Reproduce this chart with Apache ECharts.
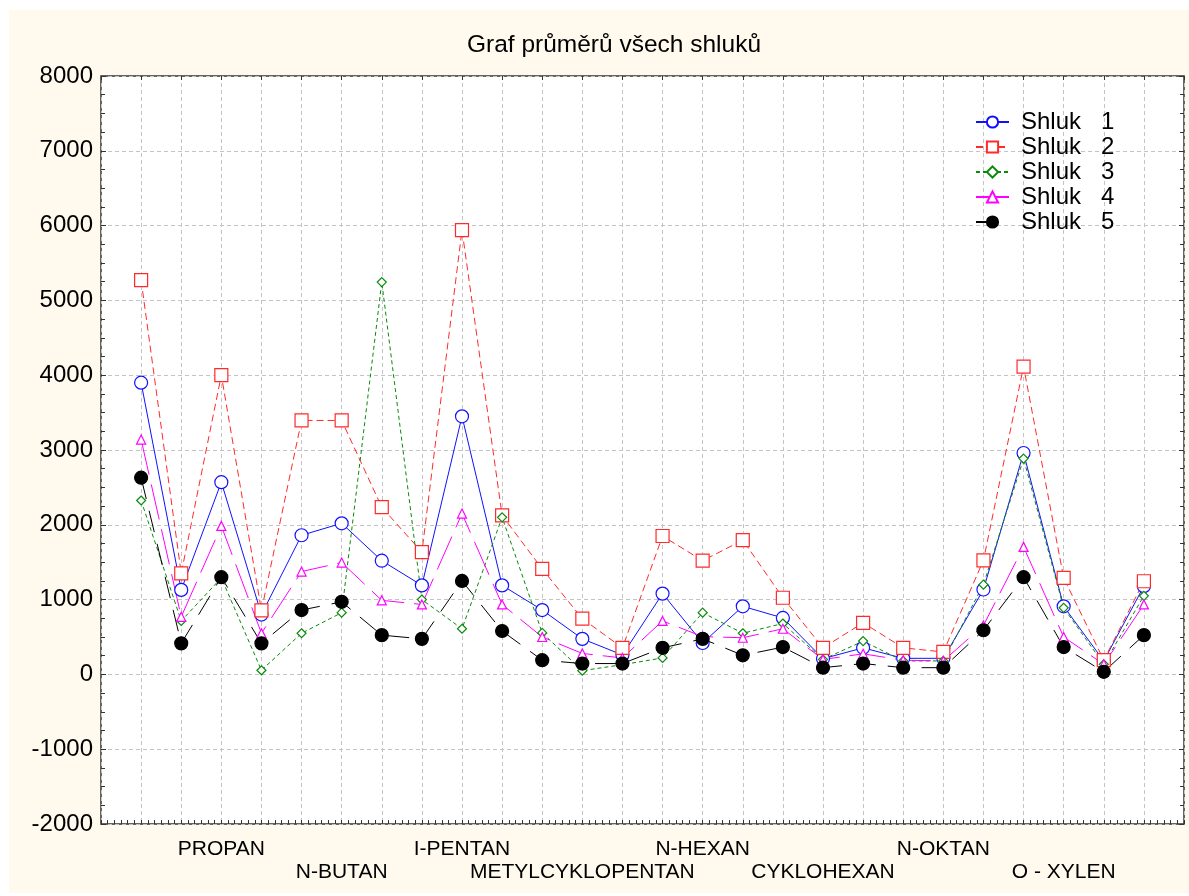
<!DOCTYPE html>
<html>
<head>
<meta charset="utf-8">
<title>Graf průměrů všech shluků</title>
<script src="https://cdn.jsdelivr.net/npm/echarts@6/dist/echarts.min.js"></script>
<style>
  html, body { margin: 0; padding: 0; background: #fff; }
  #chart { width: 1189px; height: 896px; }
</style>
</head>
<body>
<div id="chart"></div>
<script>
// Measured compounds along the x axis (only every third one is labelled)
const categories = [
  '', '', 'PROPAN', '', '', 'N-BUTAN', '', '', 'I-PENTAN', '', '', 'METYLCYKLOPENTAN',
  '', '', 'N-HEXAN', '', '', 'CYKLOHEXAN', '', '', 'N-OKTAN', '', '', 'O - XYLEN', '', ''
];

const seriesNames = ['Shluk   1', 'Shluk   2', 'Shluk   3', 'Shluk   4', 'Shluk   5'];

// Cluster means
const shluk1 = [3900, 1130, 2570, 800, 1860, 2020, 1520, 1190, 3450, 1190, 860, 475, 260,
                1080, 420, 910, 755, 210, 355, 215, 215, 1135, 2960, 910, 180, 1180];
const shluk2 = [5270, 1350, 4000, 855, 3395, 3395, 2235, 1635, 5940, 2125, 1410, 745, 355,
                1850, 1520, 1795, 1025, 355, 690, 355, 300, 1525, 4115, 1290, 190, 1245];
const shluk3 = [2325, 715, 1290, 55, 550, 825, 5245, 1000, 610, 2100, 555, 50, 130,
                220, 825, 550, 680, 200, 445, 180, 180, 1200, 2885, 890, 135, 1050];
const shluk4 = [3140, 770, 1985, 550, 1375, 1495, 990, 935, 2150, 935, 500, 280, 220,
                715, 505, 490, 610, 200, 275, 190, 180, 655, 1705, 500, 135, 935];
const shluk5 = [2630, 415, 1300, 415, 860, 970, 525, 475, 1250, 580, 190, 145, 145,
                355, 475, 255, 365, 90, 145, 90, 90, 590, 1300, 365, 35, 525];

// Y axis range and step
const yMin = -2000, yMax = 8000, yStep = 1000;

const FONT = '"Liberation Sans", Arial, Helvetica, sans-serif';
const AXIS_COLOR = '#333';
const GRID_COLOR = '#c4c4c4';

// Named labels alternate between two rows under the axis
const namedIdx = categories.map((c, i) => c ? i : -1).filter(i => i >= 0);
function xLabel(v) {
  const i = v - 1;
  const name = categories[i];
  if (!name) return '';
  const order = namedIdx.indexOf(i);
  return (order % 2 === 1 ? '\n' : '') + name;
}

const styles = [
  { values: shluk1, color: '#1010ff', symbol: 'circle',   size: 13, dash: 'solid', fill: '#fff' },
  { values: shluk2, color: '#ff2a2a', symbol: 'rect',     size: 13, dash: [7, 4],  fill: '#fff' },
  { values: shluk3, color: '#0a8a0a', symbol: 'diamond',  size: 9,  dash: [4, 3],  fill: '#fff' },
  { values: shluk4, color: '#ff00ff', symbol: 'triangle', size: 9,  dash: [36, 10], fill: '#fff' },
  { values: shluk5, color: '#000000', symbol: 'circle',   size: 13, dash: [22, 12], fill: '#000' }
];

const series = styles.map((s, k) => ({
  name: seriesNames[k],
  type: 'line',
  xAxisIndex: 0,
  yAxisIndex: 0,
  data: s.values.map((v, i) => [i + 1, v]),
  symbol: s.symbol,
  symbolSize: s.size,
  showAllSymbol: true,
  lineStyle: { color: s.color, width: 1, type: s.dash },
  itemStyle: { color: s.fill, borderColor: s.color, borderWidth: 1.2 },
  emphasis: { disabled: true },
  animation: false
}));

const chart = echarts.init(document.getElementById('chart'), null, { renderer: 'canvas' });

chart.setOption({
  backgroundColor: '#fff9ee',
  animation: false,
  textStyle: { fontFamily: FONT },
  graphic: [
    // white page margin around the cream panel
    { type: 'rect', left: 0, top: 0, shape: { width: 1189, height: 10 }, style: { fill: '#fff' }, silent: true },
    { type: 'rect', left: 0, top: 0, shape: { width: 9, height: 896 }, style: { fill: '#fff' }, silent: true },
    { type: 'rect', left: 0, top: 893, shape: { width: 1189, height: 3 }, style: { fill: '#fff' }, silent: true },
    {
      type: 'text', x: 614, y: 45, silent: true,
      style: {
        text: 'Graf průměrů všech shluků',
        font: '24.5px ' + FONT, fill: '#000',
        textAlign: 'center', textVerticalAlign: 'middle'
      }
    }
  ],
  grid: {
    left: 101, right: 5, top: 76, bottom: 72,
    show: true, backgroundColor: '#fff',
    borderColor: AXIS_COLOR, borderWidth: 1.5
  },
  legend: {
    orient: 'vertical',
    left: 975, top: 110, padding: 0,
    itemWidth: 33, itemHeight: 14, itemGap: 1,
    selectedMode: false,
    textStyle: { fontSize: 24, lineHeight: 24, color: '#000', fontFamily: FONT, padding: [0, 0, 0, 7] },
    data: seriesNames
  },
  xAxis: [
    {
      type: 'value', position: 'bottom', min: 0, max: categories.length + 1, interval: 1,
      axisLine: { show: false, onZero: false },
      axisTick: { show: true, inside: true, length: 4, lineStyle: { color: AXIS_COLOR } },
      minorTick: { show: true, splitNumber: 6, length: 4, lineStyle: { color: AXIS_COLOR } },
      splitLine: { show: true, lineStyle: { color: GRID_COLOR, type: [4, 3], width: 1 } },
      axisLabel: {
        formatter: xLabel, margin: 13, fontSize: 21, lineHeight: 23.5, color: '#000',
        fontFamily: FONT, showMinLabel: true, showMaxLabel: true, hideOverlap: false
      }
    },
    {
      type: 'value', position: 'top', min: 0, max: categories.length + 1, interval: 1,
      axisLine: { show: false, onZero: false },
      axisTick: { show: true, inside: true, length: 4, lineStyle: { color: AXIS_COLOR } },
      splitLine: { show: false },
      axisLabel: { show: false }
    }
  ],
  yAxis: [
    {
      type: 'value', position: 'left', min: yMin, max: yMax, interval: yStep,
      axisLine: { show: false, onZero: false },
      axisTick: { show: true, inside: true, length: 5, lineStyle: { color: AXIS_COLOR } },
      minorTick: { show: true, splitNumber: 4, length: 4, lineStyle: { color: AXIS_COLOR } },
      splitLine: { show: true, lineStyle: { color: GRID_COLOR, type: [4, 3], width: 1 } },
      axisLabel: { fontSize: 24, color: '#000', margin: 8, fontFamily: FONT, formatter: v => String(v) }
    },
    {
      type: 'value', position: 'right', min: yMin, max: yMax, interval: yStep,
      axisLine: { show: false, onZero: false },
      axisTick: { show: true, inside: true, length: 5, lineStyle: { color: AXIS_COLOR } },
      minorTick: { show: true, splitNumber: 4, length: 4, lineStyle: { color: AXIS_COLOR } },
      splitLine: { show: false },
      axisLabel: { show: false }
    }
  ],
  series: series
});
</script>
</body>
</html>
